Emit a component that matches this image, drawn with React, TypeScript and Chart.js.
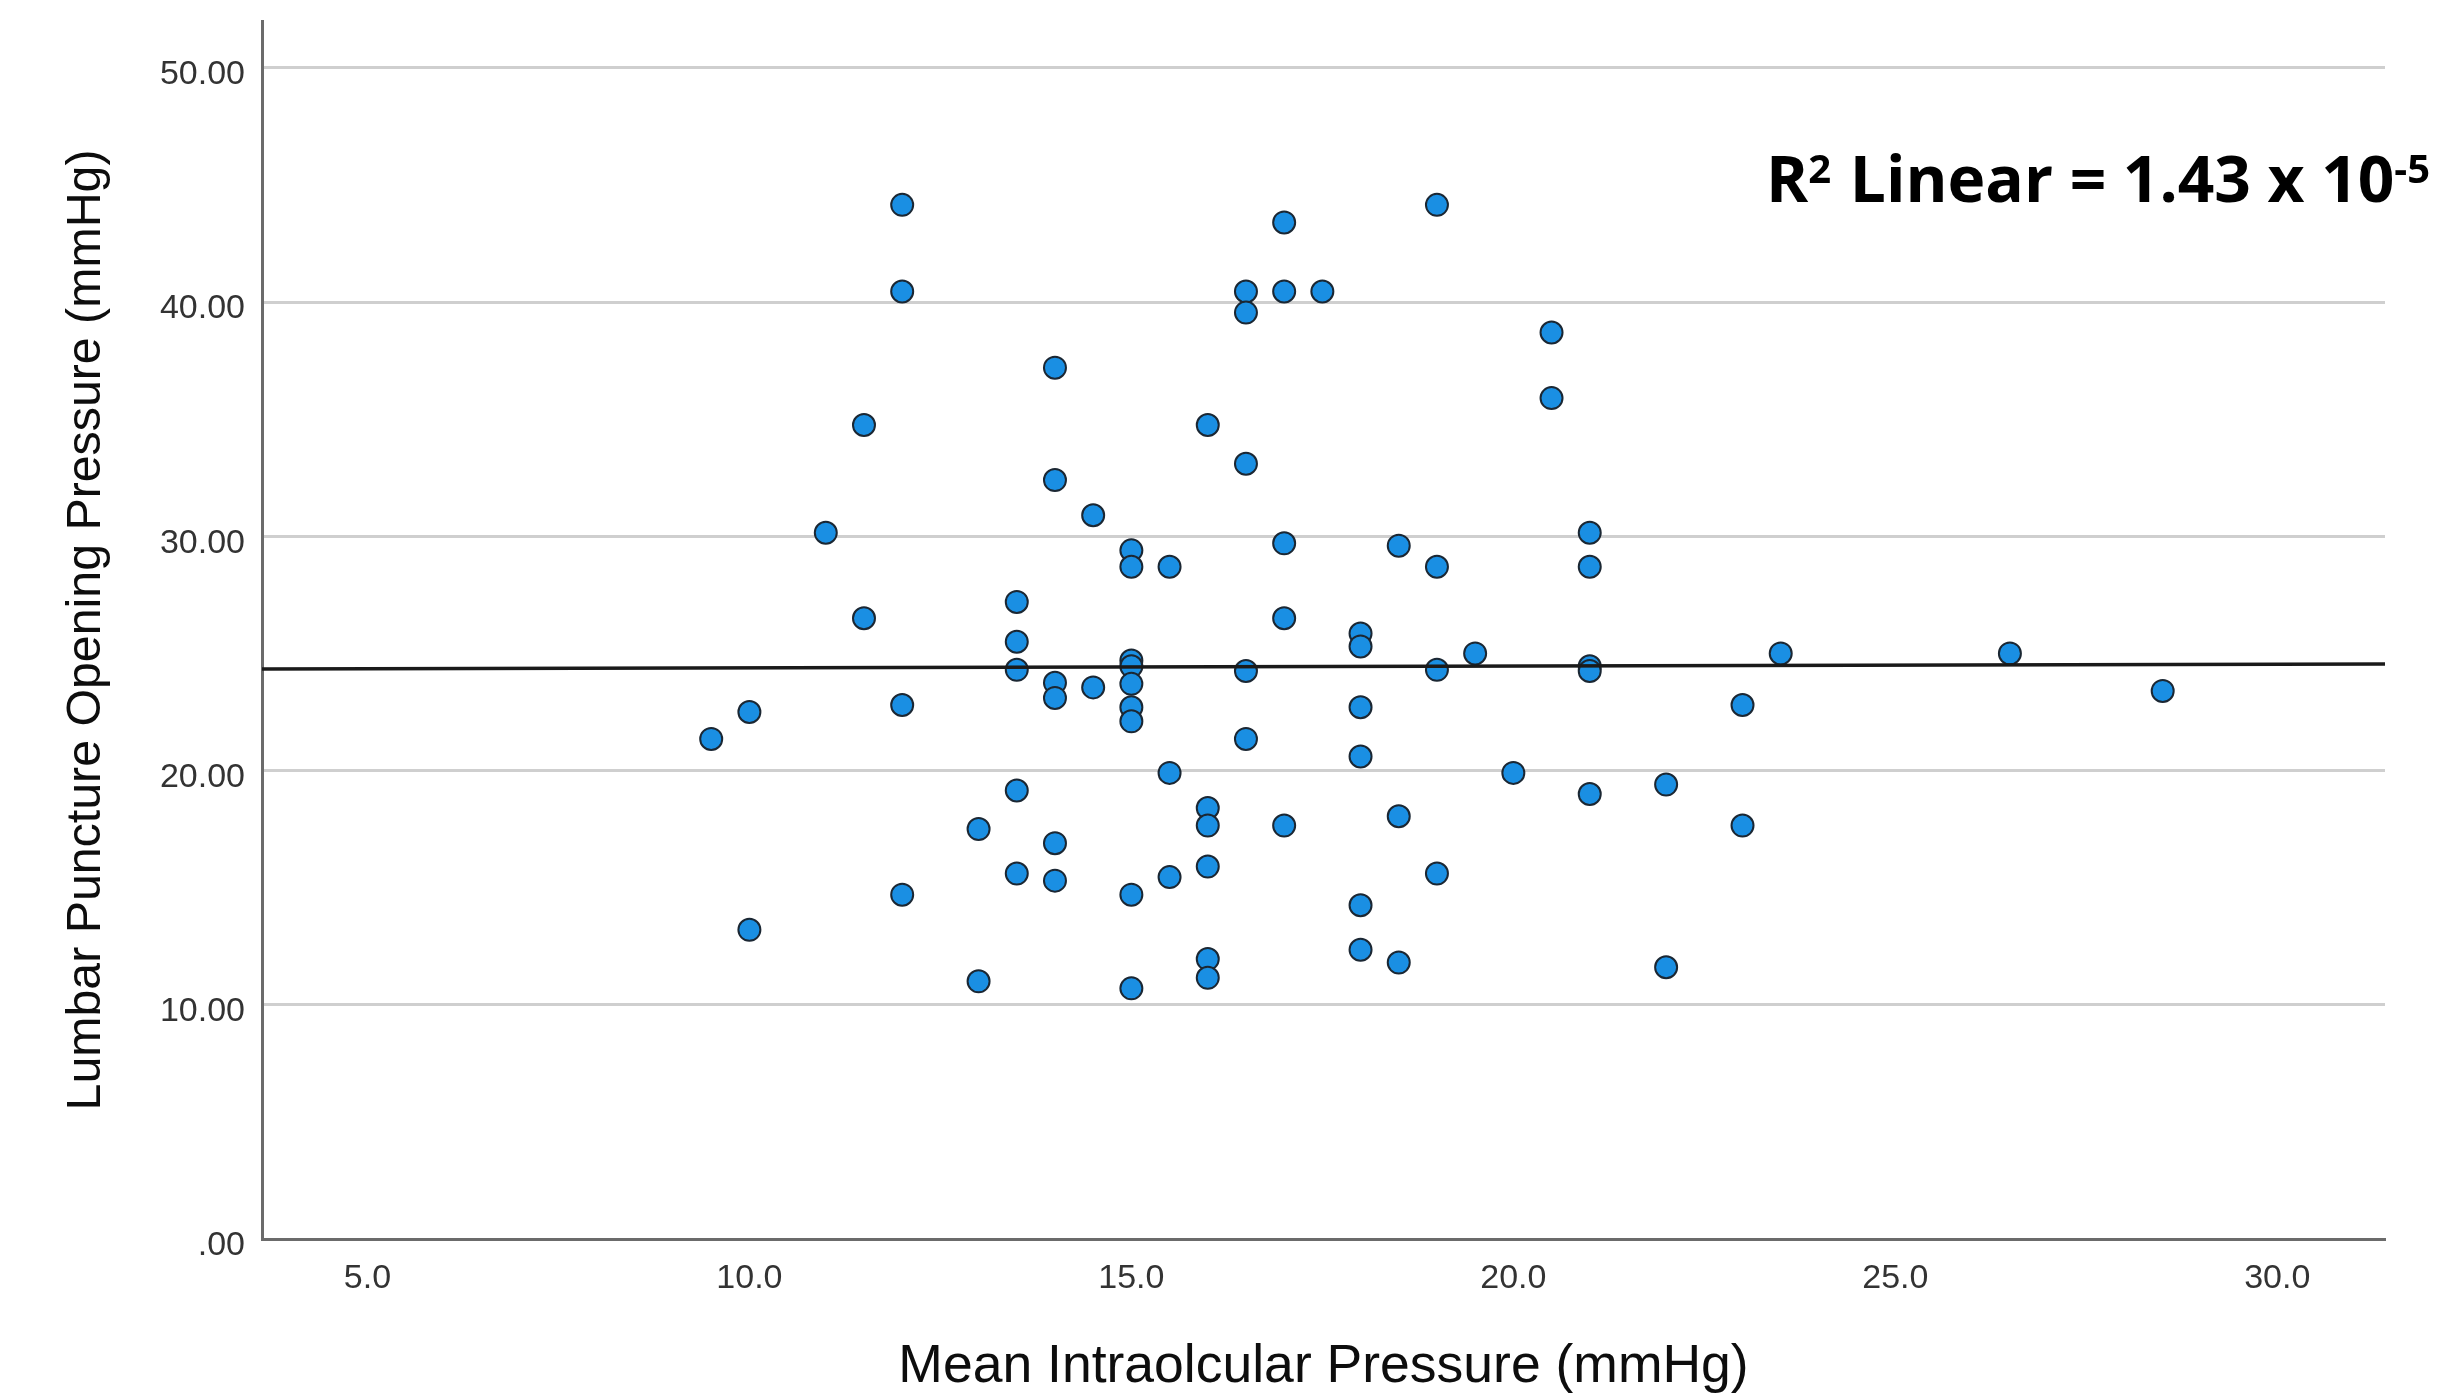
import React, { useEffect, useRef } from 'react';
import { Chart, registerables } from 'chart.js';

Chart.register(...registerables);

// ---- data ----
const iopX = [
  9.5,
  10, 10,
  11,
  11.5, 11.5,
  12, 12, 12, 12,
  13, 13,
  13.5, 13.5, 13.5, 13.5, 13.5,
  14, 14, 14, 14, 14, 14,
  14.5, 14.5,
  15, 15, 15, 15, 15, 15, 15, 15, 15,
  15.5, 15.5, 15.5,
  16, 16, 16, 16, 16, 16,
  16.5, 16.5, 16.5, 16.5, 16.5,
  17, 17, 17, 17, 17,
  17.5,
  18, 18, 18, 18, 18, 18,
  18.5, 18.5, 18.5,
  19, 19, 19, 19,
  19.5,
  20,
  20.5, 20.5,
  21, 21, 21, 21, 21,
  22, 22,
  23, 23,
  23.5,
  26.5,
  28.5,
];
const lpY = [
  21.35,
  22.5, 13.2,
  30.15,
  34.75, 26.5,
  44.15, 40.45, 22.8, 14.7,
  17.5, 11.0,
  27.2, 25.5, 24.3, 19.15, 15.6,
  37.2, 32.4, 23.75, 23.1, 16.9, 15.3,
  30.9, 23.55,
  29.4, 28.7, 24.7, 24.45, 23.7, 22.7, 22.1, 14.7, 10.7,
  28.7, 19.9, 15.45,
  34.75, 18.4, 17.65, 15.9, 11.95, 11.15,
  40.45, 39.55, 33.1, 24.25, 21.35,
  43.4, 40.45, 29.7, 26.5, 17.65,
  40.45,
  25.85, 25.3, 22.7, 20.6, 14.25, 12.35,
  29.6, 18.05, 11.8,
  44.15, 28.7, 24.3, 15.6,
  25.0,
  19.9,
  38.7, 35.9,
  30.15, 28.7, 24.45, 24.25, 19.0,
  19.4, 11.6,
  22.8, 17.65,
  25.0,
  25.0,
  23.4,
];
const fitX = [3.62, 31.41];
const fitY = [24.33, 24.55];

const xRange = [3.62, 31.41];
const yRange = [0, 52];
const xTicks = [5, 10, 15, 20, 25, 30];
const xTickLabels = ['5.0', '10.0', '15.0', '20.0', '25.0', '30.0'];
const yTicks = [0, 10, 20, 30, 40, 50];
const yTickLabels = ['.00', '10.00', '20.00', '30.00', '40.00', '50.00'];

const xTitle = 'Mean Intraolcular Pressure (mmHg)';
const yTitle = 'Lumbar Puncture Opening Pressure (mmHg)';
const r2Parts: [string, 'base' | 'sup'][] = [
  ['R', 'base'],
  ['2', 'sup'],
  [' Linear = 1.43 x 10', 'base'],
  ['-5', 'sup'],
];

const W = 2441;
const H = 1400;

const r2Plugin = {
  id: 'r2Label',
  afterDraw(chart: any) {
    const ctx = chart.ctx as CanvasRenderingContext2D;
    ctx.save();
    const fam = '"Open Sans", "Noto Sans", sans-serif';
    const baseSize = 64;
    const supSize = 40;
    ctx.fillStyle = '#000';
    ctx.textBaseline = 'alphabetic';
    ctx.textAlign = 'left';
    let x = 1766;
    const baseline = 202;
    for (const [txt, kind] of r2Parts) {
      ctx.font = `bold ${kind === 'base' ? baseSize : supSize}px ${fam}`;
      const y = kind === 'base' ? baseline : baseline - 19;
      ctx.fillText(txt, x, y);
      x += ctx.measureText(txt).width + (kind === 'sup' ? 2 : 0);
    }
    ctx.restore();
  },
};

export default function App() {
  const ref = useRef<HTMLCanvasElement | null>(null);

  useEffect(() => {
    if (!ref.current) return;
    const chart = new Chart(ref.current, {
      type: 'scatter',
      data: {
        datasets: [
          {
            type: 'line',
            label: 'Fit',
            data: fitX.map((x, i) => ({ x, y: fitY[i] })),
            borderColor: '#1a1a1a',
            borderWidth: 3.5,
            pointRadius: 0,
            fill: false,
            order: 0,
          } as any,
          {
            type: 'scatter',
            label: 'Points',
            data: iopX.map((x, i) => ({ x, y: lpY[i] })),
            backgroundColor: '#1a8fe3',
            borderColor: '#1b2733',
            borderWidth: 2,
            pointRadius: 11,
            order: 1,
          },
        ],
      },
      options: {
        animation: false,
        responsive: false,
        devicePixelRatio: 1,
        layout: { padding: { left: 0, top: 21, right: 56, bottom: 0 } },
        plugins: {
          legend: { display: false },
          tooltip: { enabled: false },
        },
        scales: {
          x: {
            type: 'linear',
            min: xRange[0],
            max: xRange[1],
            afterBuildTicks: (s: any) => {
              s.ticks = xTicks.map((v) => ({ value: v }));
            },
            afterFit: (s: any) => {
              s.height = 161;
              s.paddingLeft = 0;
              s.paddingRight = 0;
            },
            grid: { display: false, drawTicks: false },
            border: { display: true, color: '#6b6b6b', width: 3 },
            ticks: {
              padding: 19,
              color: '#333',
              font: { family: '"Liberation Sans", Arial, sans-serif', size: 34 },
              callback: (v: any) => {
                const i = xTicks.indexOf(Number(v));
                return i >= 0 ? xTickLabels[i] : '';
              },
            },
            title: {
              display: true,
              text: xTitle,
              color: '#0d0d0d',
              font: { family: '"Liberation Sans", Arial, sans-serif', size: 53.5 },
              padding: { top: 0, bottom: 1 },
            },
          },
          y: {
            type: 'linear',
            min: yRange[0],
            max: yRange[1],
            afterBuildTicks: (s: any) => {
              s.ticks = yTicks.map((v) => ({ value: v }));
            },
            afterFit: (s: any) => {
              s.width = 262;
              s.paddingTop = 0;
              s.paddingBottom = 0;
            },
            grid: {
              drawTicks: false,
              lineWidth: 3,
              color: (c: any) => (c.tick && c.tick.value === 0 ? 'rgba(0,0,0,0)' : '#cfcfcf'),
            },
            border: { display: true, color: '#6b6b6b', width: 3 },
            ticks: {
              padding: 17,
              labelOffset: 7,
              color: '#333',
              font: { family: '"Liberation Sans", Arial, sans-serif', size: 34 },
              callback: (v: any) => {
                const i = yTicks.indexOf(Number(v));
                return i >= 0 ? yTickLabels[i] : '';
              },
            },
            title: {
              display: true,
              text: yTitle,
              color: '#0d0d0d',
              font: { family: '"Liberation Sans", Arial, sans-serif', size: 48.3 },
              padding: { top: 58, bottom: 0 },
            },
          },
        },
      },
      plugins: [r2Plugin],
    });
    return () => chart.destroy();
  }, []);

  return (
    <div style={{ position: 'fixed', left: 0, top: 0, width: W, height: H, background: '#fff' }}>
      <canvas ref={ref} width={W} height={H} style={{ width: W, height: H, display: 'block' }} />
    </div>
  );
}
